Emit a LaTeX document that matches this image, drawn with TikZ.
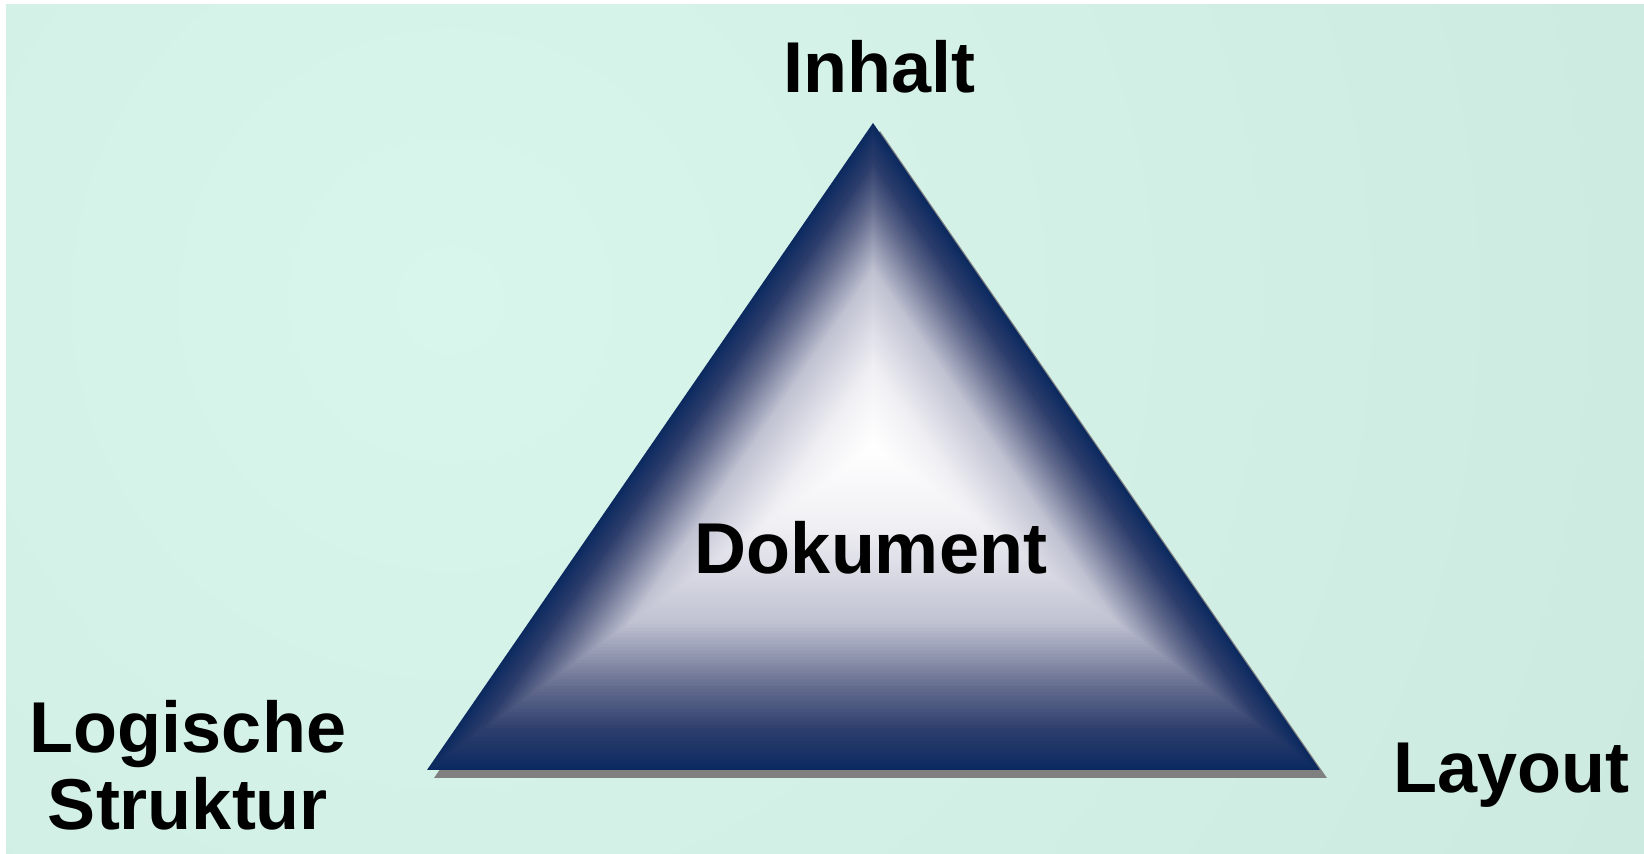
\documentclass[tikz,border=0pt]{standalone}
\usepackage{fontspec}
\setmainfont{Liberation Sans}
\usepackage{tikz}
\definecolor{mintlight}{RGB}{217,246,236}
\definecolor{mintdark}{RGB}{192,222,211}
\definecolor{navy}{RGB}{12,42,96}
\definecolor{deepblue}{RGB}{45,62,108}
\definecolor{slate}{RGB}{100,108,142}
\definecolor{lavender}{RGB}{192,194,210}
\definecolor{paleblue}{RGB}{240,240,244}
\definecolor{shadowgray}{RGB}{128,128,128}
\tikzset{cornertext/.style = {
    font = \bfseries\fontsize{36}{39}\selectfont,
    inner sep = 0pt,
    anchor = base,
    align = center
}}

\begin{document}
\begin{tikzpicture}[x = 0.5pt, y = -0.5pt]
    \useasboundingbox
        (0, 0) rectangle (1644, 854)
    ;

    % Background
    \fill [mintlight!60!mintdark] (6, 5) rectangle (1660, 870);
    \begin{scope}
        \clip (6, 5) rectangle (1660, 870);
        \shade
            [inner color = mintlight, outer color = mintdark]
            (450, 300) circle (2600)
        ;
    \end{scope}

    % Corners
    \coordinate (apex) at (873, 123);
    \coordinate (lcorner) at (427, 770);
    \coordinate (rcorner) at (1320, 770);

    % Shadow
    \fill
        [shadowgray]
        ([xshift = 3.5pt, yshift = -4pt]apex)
        -- ([xshift = 3.5pt, yshift = -4pt]lcorner)
        -- ([xshift = 3.5pt, yshift = -4pt]rcorner)
        -- cycle
    ;

    % Triangle
    \begin{scope}[shift = {(873.5, 446.5)}]
        \foreach \outer/\inner/\ca/\cb in {100/88/navy/deepblue, 88/75/deepblue/slate,
                75/55/slate/lavender, 55/25/lavender/paleblue, 25/1/paleblue/white} {
            \pgfmathtruncatemacro\nxt{\outer - 1}
            \foreach \i in {\outer, \nxt, ..., \inner} {
                \pgfmathsetmacro\p{(\i - \inner) / (\outer - \inner) * 100}
                \fill
                    [\ca!\p!\cb, scale = \i / 100]
                    (-0.5, -323.5) -- (-446.5, 323.5) -- (446.5, 323.5) -- cycle
                ;
            }
        }
    \end{scope}

    % Labels
    \node [cornertext] (inhalt) at (879, 93) {Inhalt};
    \node [cornertext] (dokument) at (871, 574) {Dokument};
    \node [cornertext] (layout) at (1511, 793) {Layout};
    \node [cornertext] (logik) at (188, 830) {Logische\\Struktur};

\end{tikzpicture}
\end{document}
